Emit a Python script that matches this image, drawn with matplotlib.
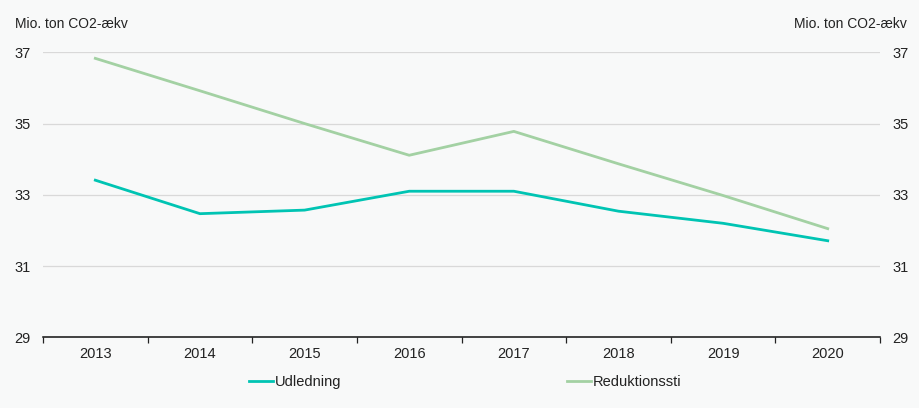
import matplotlib
matplotlib.use("Agg")
import matplotlib.pyplot as plt
import numpy as np

plt.rcParams["font.family"] = ["Liberation Sans", "DejaVu Sans"]

aar = ["2013", "2014", "2015", "2016", "2017", "2018", "2019", "2020"]
udledning = [33.41, 32.47, 32.57, 33.10, 33.10, 32.54, 32.20, 31.71]
reduktionssti = [36.83, 35.92, 35.00, 34.11, 34.78, 33.87, 32.98, 32.05]
y_ticks = [29, 31, 33, 35, 37]

BG = "#f8f9f9"
TEAL = "#00c4b3"
GREEN = "#a3d1a3"

fig = plt.figure(figsize=(9.19, 4.08), dpi=100)
fig.patch.set_facecolor(BG)
ax = fig.add_axes([0.0468, 0.1733, 0.9108, 0.6985])
ax.set_facecolor(BG)

x = np.arange(len(aar))
ax.plot(x, udledning, color=TEAL, linewidth=2.0, label="Udledning", zorder=3)
ax.plot(x, reduktionssti, color=GREEN, linewidth=2.0, label="Reduktionssti", zorder=3)

ax.set_xlim(-0.5, len(aar) - 0.5)
ax.set_ylim(29, 37)
ax.set_yticks(y_ticks)
ax.set_yticklabels([str(t) for t in y_ticks], fontsize=10.5, color="#222")
ax.grid(axis="y", color="#d9d9d9", linewidth=0.9, zorder=0)
ax.set_axisbelow(True)

# aarstal midt i felterne, tick-streger paa graenserne
ax.set_xticks(x)
ax.set_xticklabels(aar, fontsize=10.5, color="#222")
ax.tick_params(axis="x", which="major", length=0, pad=7)
ax.set_xticks(np.arange(-0.5, len(aar), 1.0), minor=True)
ax.tick_params(axis="x", which="minor", length=4, width=0.9, color="#222")
ax.tick_params(axis="y", length=0, pad=9)

for s in ["top", "left", "right"]:
    ax.spines[s].set_visible(False)
ax.spines["bottom"].set_color("#111")
ax.spines["bottom"].set_linewidth(1.1)

ax2 = ax.twinx()
ax2.set_ylim(29, 37)
ax2.set_yticks(y_ticks)
ax2.set_yticklabels([str(t) for t in y_ticks], fontsize=10.5, color="#222")
ax2.tick_params(axis="y", length=0, pad=9)
for s in ax2.spines.values():
    s.set_visible(False)

fig.text(15 / 919, 1 - 24 / 408, "Mio. ton CO2-ækv", fontsize=10, color="#222",
         ha="left", va="center")
fig.text(907 / 919, 1 - 24 / 408, "Mio. ton CO2-ækv", fontsize=10, color="#222",
         ha="right", va="center")

handles, labels = ax.get_legend_handles_labels()
leg = fig.legend(handles, labels, loc="center", bbox_to_anchor=(0.506, 1 - 382 / 408),
                 ncol=2, frameon=False, fontsize=10.5, handlelength=1.7,
                 handletextpad=0.1, columnspacing=15.45)
for t in leg.get_texts():
    t.set_color("#222")

fig.savefig("out.png", dpi=100, facecolor=fig.get_facecolor())
plt.close(fig)
